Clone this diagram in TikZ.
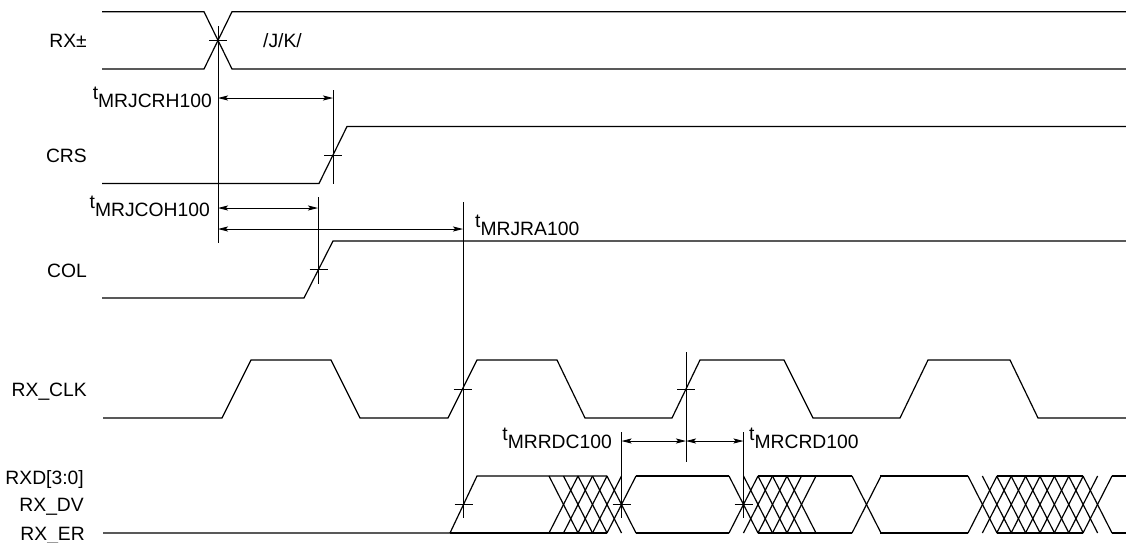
\documentclass[tikz,border=0pt]{standalone}
\usepackage{fontspec}
\setmainfont{Liberation Sans}
\usetikzlibrary{arrows.meta}
\newcommand\tlab[1]{\raisebox{8pt}{t}#1}
\begin{document}
\begin{tikzpicture}[x=1pt,y=-1pt,
  sig/.style={line width=1.2pt, line join=miter},
  guide/.style={line width=0.9pt},
  tickmark/.style={line width=0.9pt},
  dim/.style={line width=0.9pt, {Stealth[length=10pt,width=5pt,inset=2pt]}-{Stealth[length=10pt,width=5pt,inset=2pt]}},
  lbl/.style={font=\fontsize{19.3}{23}\selectfont, inner sep=0pt},
]
\useasboundingbox (0,0) rectangle (1126,542);

% signal names
\node[lbl, anchor=base east] (lrx)  at (87,47)  {RX±};
\node[lbl, anchor=base west] (ljk)  at (263,47) {/J/K/};
\node[lbl, anchor=base east] (lcrs) at (87,162) {CRS};
\node[lbl, anchor=base east] (lcol) at (87,277) {COL};
\node[lbl, anchor=base east] (lclk) at (87,396) {RX\_CLK};
\node[lbl, anchor=base east] (lrxd) at (84,484) {RXD[3:0]};
\node[lbl, anchor=base east] (ldv)  at (84,511) {RX\_DV};
\node[lbl, anchor=base east] (ler)  at (85,540) {RX\_ER};

% timing labels
\node[lbl, anchor=base east] (tcrh) at (212,107) {\tlab{MRJCRH100}};
\node[lbl, anchor=base east] (tcoh) at (210,216) {\tlab{MRJCOH100}};
\node[lbl, anchor=base west] (tra)  at (475,235) {\tlab{MRJRA100}};
\node[lbl, anchor=base east] (trdc) at (612,448) {\tlab{MRRDC100}};
\node[lbl, anchor=base west] (tcrd) at (749,448) {\tlab{MRCRD100}};

% RX+-
\draw[sig] (102,11.7) -- (204,11.7) -- (232,69) -- (1126,69);
\draw[sig] (102,69) -- (204,69) -- (232,11.7) -- (1126,11.7);

% CRS
\draw[sig] (102,183.5) -- (319,183.5) -- (347,126.5) -- (1126,126.5);

% COL
\draw[sig] (102,298) -- (304,298) -- (333,241) -- (1126,241);

% RX_CLK
\draw[sig] (103,418) -- (222,418) -- (251,360) -- (331,360) -- (360,418)
  -- (448,418) -- (477,360) -- (557,360) -- (585,418)
  -- (672,418) -- (700,360) -- (784,360) -- (813,418)
  -- (900,418) -- (928,360) -- (1010,360) -- (1038,418) -- (1126,418);

% RXD / RX_DV / RX_ER
\draw[sig] (103,533) -- (450,533) -- (477,476) -- (607,476);
\draw[sig] (450,533) -- (607,533);
\foreach \a/\b in {636/729, 758/852, 880/968, 997/1083, 1112/1126} {
  \draw[sig] (\a,476) -- (\b,476);
  \draw[sig] (\a,533) -- (\b,533);
}
\foreach \s in {549,563.5,578,592.5,607,729,743.5,758,772.5,787,852} {
  \draw[sig] (\s,476) -- ++(29,57);
  \draw[sig] (\s,533) -- ++(29,-57);
}
\foreach \k in {0,...,8} {
  \draw[sig] ({968+14.375*\k},476) -- ++(29,57);
  \draw[sig] ({968+14.375*\k},533) -- ++(29,-57);
}

% crossing ticks
\foreach \x/\y in {218/40.3, 333/155, 318.5/269.5, 462.5/389, 686/389, 463.5/504.5, 621.5/504.5, 743.5/504.5} {
  \draw[tickmark] (\x-9,\y) -- (\x+9,\y);
}

% reference verticals
\coordinate (v1t) at (218,26);   \coordinate (v1b) at (218,243);
\coordinate (v2t) at (333,90);   \coordinate (v2b) at (333,184);
\coordinate (v3t) at (318,197);  \coordinate (v3b) at (318,284);
\coordinate (v4t) at (463,202);  \coordinate (v4b) at (463,518);
\coordinate (v5t) at (686,352);  \coordinate (v5b) at (686,462);
\coordinate (v6t) at (621.5,432);\coordinate (v6b) at (621.5,518);
\coordinate (v7t) at (743.5,432);\coordinate (v7b) at (743.5,518);
\foreach \v in {1,...,7} { \draw[guide] (v\v t) -- (v\v b); }

% dimension arrows
\coordinate (a1l) at (218,98);   \coordinate (a1r) at (333,98);
\coordinate (a2l) at (218,208);  \coordinate (a2r) at (318,208);
\coordinate (a3l) at (218,229);  \coordinate (a3r) at (463,229);
\coordinate (a4l) at (621.5,441);\coordinate (a4r) at (686,441);
\coordinate (a5l) at (686,441);  \coordinate (a5r) at (743.5,441);
\foreach \v in {1,...,5} { \draw[dim] (a\v l) -- (a\v r); }
\end{tikzpicture}
\end{document}
